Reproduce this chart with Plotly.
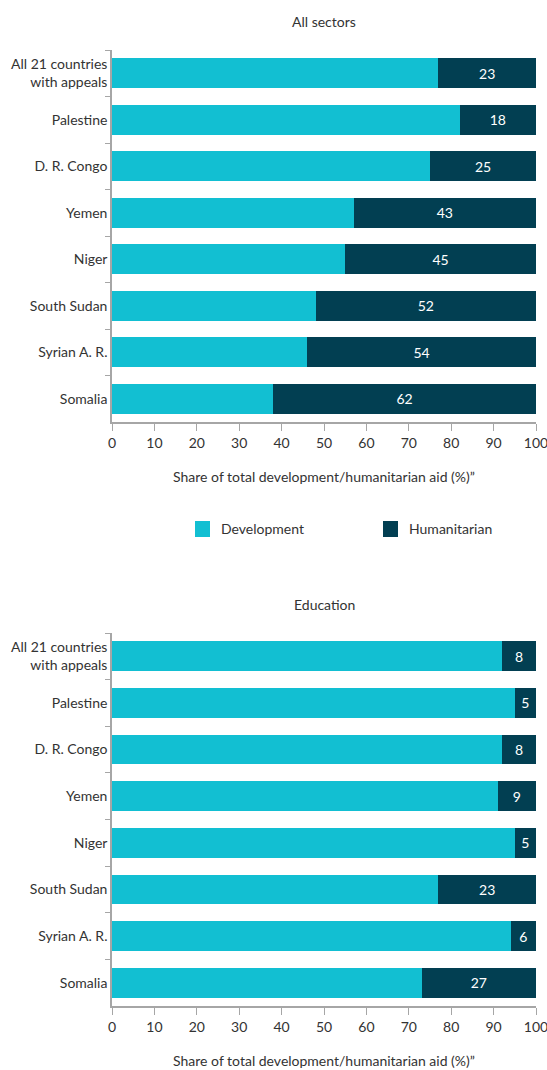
import plotly.graph_objects as go
from plotly.subplots import make_subplots

# Country groups, top to bottom
countries = [
    "All 21 countries<br>with appeals",
    "Palestine",
    "D. R. Congo",
    "Yemen",
    "Niger",
    "South Sudan",
    "Syrian A. R.",
    "Somalia",
]

# All sectors: share of aid (%)
all_dev = [77, 82, 75, 57, 55, 48, 46, 38]
all_hum = [23, 18, 25, 43, 45, 52, 54, 62]

# Education: share of aid (%)
edu_dev = [92, 95, 92, 91, 95, 77, 94, 73]
edu_hum = [8, 5, 8, 9, 5, 23, 6, 27]

x_ticks = [0, 10, 20, 30, 40, 50, 60, 70, 80, 90, 100]

series_names = ["Development", "Humanitarian"]
panel_titles = ["All sectors", "Education"]
axis_title = "Share of total development/humanitarian aid (%)\u201d"

DEV_COLOR = "#12bfd2"
HUM_COLOR = "#023f52"
TEXT_COLOR = "#333333"
LINE_COLOR = "#a6a6a6"
FONT = "Lato"

W, H = 547, 1070
ML, MR = 112, 11
PLOT_W = W - ML - MR

fig = make_subplots(rows=2, cols=1)

panels = [(all_dev, all_hum), (edu_dev, edu_hum)]
for i, (dev, hum) in enumerate(panels, start=1):
    fig.add_trace(
        go.Bar(
            y=countries, x=dev, orientation="h", name=series_names[0],
            marker=dict(color=DEV_COLOR, line=dict(width=0)),
            width=0.64, showlegend=False, hoverinfo="x+y",
        ),
        row=i, col=1,
    )
    fig.add_trace(
        go.Bar(
            y=countries, x=hum, orientation="h", name=series_names[1],
            marker=dict(color=HUM_COLOR, line=dict(width=0)),
            width=0.64, showlegend=False,
            text=[str(v) for v in hum], textposition="inside",
            insidetextanchor="middle", textangle=0,
            textfont=dict(color="white", size=14, family=FONT),
            hoverinfo="x+y",
        ),
        row=i, col=1,
    )

# Plot-area placement (pixels from the top of the page)
top_panel = (50, 422)
bottom_panel = (633, 1006)


def dom(px):
    return [1 - px[1] / H, 1 - px[0] / H]


def px_x(x):
    return (x - ML) / PLOT_W


def px_y(y):
    return 1 - y / H


xaxis_style = dict(
    range=[0, 100], tickvals=x_ticks, ticks="outside", ticklen=7,
    tickcolor=LINE_COLOR, showline=True, linecolor=LINE_COLOR, linewidth=1.5,
    showgrid=False, zeroline=False, ticklabeloverflow="allow",
    tickfont=dict(size=14, color=TEXT_COLOR, family=FONT),
    title=dict(text=axis_title, standoff=23,
               font=dict(size=14, color=TEXT_COLOR, family=FONT)),
)
yaxis_style = dict(
    categoryorder="array", categoryarray=countries, autorange="reversed",
    tickson="boundaries", ticks="outside", ticklen=5, tickcolor=LINE_COLOR,
    showline=True, linecolor=LINE_COLOR, linewidth=1.5, showgrid=False,
    tickfont=dict(size=14, color=TEXT_COLOR, family=FONT),
)

fig.update_xaxes(**xaxis_style)
fig.update_yaxes(**yaxis_style)
fig.update_layout(
    yaxis=dict(domain=dom(top_panel)),
    yaxis2=dict(domain=dom(bottom_panel)),
)

for title, px in zip(panel_titles, [top_panel, bottom_panel]):
    fig.add_annotation(
        text=title, xref="paper", yref="paper", x=0.5,
        y=px_y(px[0] - 29), yanchor="middle", showarrow=False,
        font=dict(size=14, color=TEXT_COLOR, family=FONT),
    )

# Legend: colour swatch + label for each series
legend_y = 529
for name, color, sx in zip(series_names, [DEV_COLOR, HUM_COLOR], [195, 383]):
    fig.add_shape(
        type="rect", xref="paper", yref="paper",
        x0=px_x(sx), x1=px_x(sx + 15), y0=px_y(legend_y + 8), y1=px_y(legend_y - 8),
        fillcolor=color, line=dict(width=0),
    )
    fig.add_annotation(
        text=name, xref="paper", yref="paper", x=px_x(sx + 24), y=px_y(legend_y),
        xanchor="left", yanchor="middle", showarrow=False,
        font=dict(size=14, color=TEXT_COLOR, family=FONT),
    )

fig.update_layout(
    width=W, height=H,
    barmode="stack",
    bargap=0.36,
    plot_bgcolor="white", paper_bgcolor="white",
    margin=dict(l=ML, r=MR, t=0, b=0, autoexpand=False),
    font=dict(family=FONT, size=14, color=TEXT_COLOR),
    uniformtext=dict(minsize=14, mode="show"),
    showlegend=False,
)

fig.write_html("out.html")
